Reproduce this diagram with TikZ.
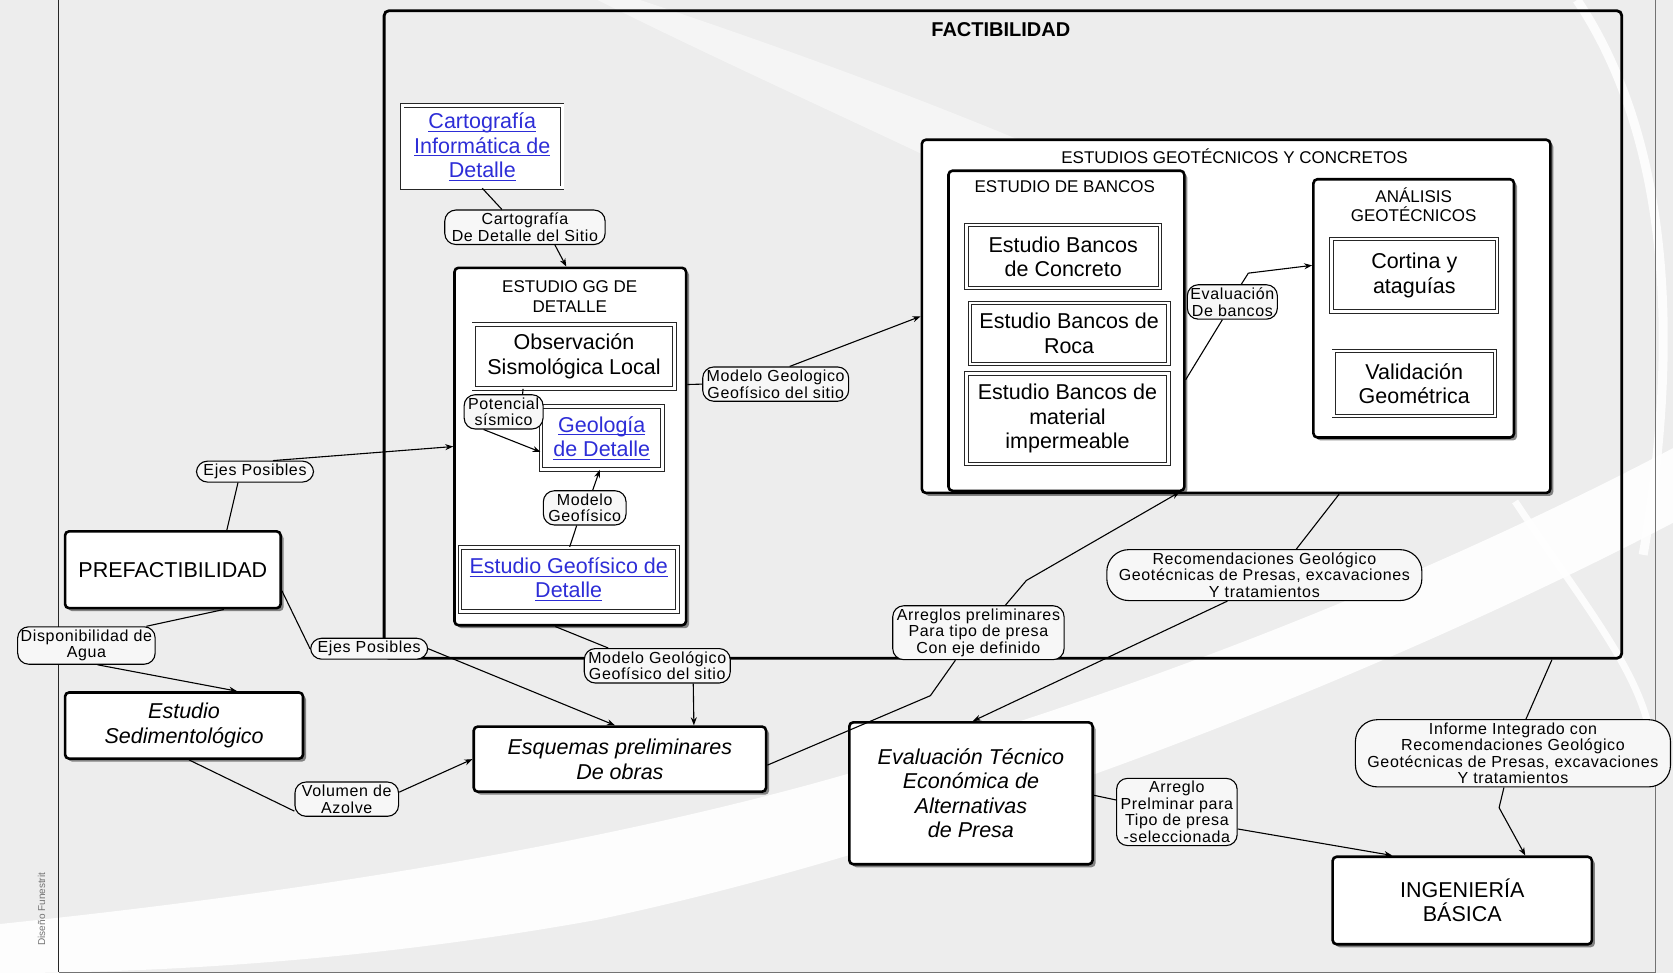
\documentclass[tikz,border=0pt]{standalone}
\usepackage{fontspec}
\setmainfont{Liberation Sans}
\newfontfamily\lblfont{Liberation Sans}[LetterSpace=4]
\usetikzlibrary{arrows.meta,fit,shadows}
\definecolor{bggray}{RGB}{237,237,237}
\definecolor{lblfill}{RGB}{247,247,247}
\definecolor{linkblue}{RGB}{45,45,215}
\newcommand{\boxfs}{\fontsize{21.5}{24.5}\selectfont}
\newcommand{\ttlfs}{\fontsize{17}{19.5}\selectfont}
\newcommand{\lblfs}{\lblfont\fontsize{16}{16.5}\selectfont}
\newsavebox{\lnkbox}
\newcommand{\lnk}[1]{\leavevmode{\color{linkblue}\sbox{\lnkbox}{#1}%
  \rlap{\vrule width\wd\lnkbox height -2.2pt depth 3.1pt}\usebox{\lnkbox}}}
\begin{document}
\begin{tikzpicture}[x=1.067pt,y=-1.067pt,
  spanbox/.style args={#1/#2/#3/#4}{minimum width={(#3-#1)*1.067pt},
    minimum height={(#4-#2)*1.067pt}, at={({(#1+#3)/2},{(#2+#4)/2})}},
  conn/.style={line width=1.1pt, black},
  arr/.style={conn, -{Stealth[length=8pt,width=6pt]}},
  bigbox/.style={draw, line width=2.6pt, rounded corners=4pt, fill=white,
    inner sep=0pt, align=center, font=\boxfs,
    drop shadow={shadow xshift=3pt, shadow yshift=-3pt, fill=black, opacity=0.45}},
  dblbox/.style={draw=black!85, line width=0.9pt, double=white, double distance=2.6pt,
    fill=white, inner sep=0pt, align=center, font=\boxfs,
    drop shadow={shadow xshift=2pt, shadow yshift=-2pt, fill=black, opacity=0.25}},
  lbl/.style={draw, line width=1.1pt, rounded corners=11pt, fill=lblfill,
    font=\lblfs, align=center, inner xsep=7pt, inner ysep=3pt},
  biglbl/.style={lbl, rounded corners=22pt, inner xsep=12pt},
  ttl/.style={font=\ttlfs, align=center, inner sep=0pt}]
\useasboundingbox (0,0) rectangle (1568,912);

% background with soft white swooshes
\fill[bggray] (0,0) rectangle (1568,912);
\fill[white, opacity=0.9] (0,866) .. controls (250,840) and (520,800) .. (760,735)
  .. controls (1050,655) and (1330,545) .. (1568,420) -- (1568,490)
  .. controls (1300,630) and (900,790) .. (560,862)
  .. controls (350,900) and (150,912) .. (0,912) -- cycle;
\fill[white, opacity=0.45] (600,0) .. controls (720,40) and (860,90) .. (1000,150)
  -- (1000,210) .. controls (860,140) and (700,70) .. (560,0) -- cycle;
\draw[white, line width=9pt, opacity=0.85] (1478,0) .. controls (1565,130) and (1575,320) .. (1540,520);
\draw[white, line width=7pt, opacity=0.85] (1420,470) .. controls (1480,560) and (1530,620) .. (1545,680);

% page frame
\draw[line width=1.6pt, black!85] (55,0) -- (55,911);
\draw[line width=0.9pt, black!55] (55,911) -- (1552,911);
\draw[line width=0.9pt, black!55] (1552,0) -- (1552,911);
\node[rotate=90, font=\fontsize{10}{11}\selectfont, text=black!55] (firma) at (39,852) {Diseño Funestrit};

% FACTIBILIDAD stage
\node[draw, line width=2.8pt, rounded corners=5pt, inner sep=0pt,
  spanbox=360/10/1520/617] (fact) {};
\node[font=\bfseries\fontsize{20}{22}\selectfont] (factT) at (938,28) {FACTIBILIDAD};

\node[dblbox, spanbox=377/99/527/176] (cart)
  {\lnk{Cartografía}\\\lnk{Informática de}\\\lnk{Detalle}};

% detailed geological-geophysical study
\node[bigbox, spanbox=426/251/643/586] (gg) {};
\node[ttl] (ggT) at (534,278) {ESTUDIO GG DE\\DETALLE};
\node[dblbox, spanbox=444/304/632/364] (obs) {Observación\\Sismológica Local};
\node[dblbox, spanbox=507/381/621/440] (geo) {\lnk{Geología}\\\lnk{de Detalle}};
\node[dblbox, spanbox=431/513/635/573] (egeof) {\lnk{Estudio Geofísico de}\\\lnk{Detalle}};
\node[lbl, inner xsep=4pt] (pot) at (472,386) {Potencial\\sísmico};
\node[lbl, inner xsep=5pt] (mgf) at (548,476) {Modelo\\Geofísico};

% geotechnical and concrete studies
\node[bigbox, spanbox=864/131/1453/462] (egc) {};
\node[ttl] (egcT) at (1157,146) {ESTUDIOS GEOTÉCNICOS Y CONCRETOS};
\node[bigbox, spanbox=889/160/1110/460] (bancos) {};
\node[ttl] (bancosT) at (998,175) {ESTUDIO DE BANCOS};
\node[dblbox, spanbox=906/211/1087/270] (conc) {Estudio Bancos\\de Concreto};
\node[dblbox, spanbox=909/284/1095/341] (roca) {Estudio Bancos de\\Roca};
\node[dblbox, spanbox=906/350/1095/435] (imper) {Estudio Bancos de\\material\\impermeable};
\node[bigbox, spanbox=1231/168/1419/410] (anal) {};
\node[ttl] (analT) at (1325,192) {ANÁLISIS\\GEOTÉCNICOS};
\node[dblbox, spanbox=1248/224/1403/292] (cort) {Cortina y\\ataguías};
\node[dblbox, spanbox=1250/329/1401/390] (valid) {Validación\\Geométrica};
\node[lbl, inner xsep=3pt] (evb) at (1155,283) {Evaluación\\De bancos};

% stages outside the feasibility frame
\node[bigbox, spanbox=61/498/263/570] (pref) {PREFACTIBILIDAD};
\node[bigbox, spanbox=61/649/284/711, font=\boxfs\itshape] (sedim) {Estudio\\Sedimentológico};
\node[bigbox, spanbox=444/681/718/742, font=\boxfs\itshape] (esq) {Esquemas preliminares\\De obras};
\node[bigbox, spanbox=796/677/1024/810, font=\boxfs\itshape] (evt)
  {Evaluación Técnico\\Económica de\\Alternativas\\de Presa};
\node[bigbox, spanbox=1249/803/1492/885] (ing) {INGENIERÍA\\BÁSICA};

% connector labels
\node[lbl] (lcart) at (492,213) {Cartografía\\De Detalle del Sitio};
\node[lbl] (ejesA) at (239,442) {Ejes Posibles};
\node[lbl] (ejesB) at (346,608) {Ejes Posibles};
\node[lbl, inner xsep=3pt] (disp) at (81,605) {Disponibilidad de\\Agua};
\node[lbl] (vol) at (325,749) {Volumen de\\Azolve};
\node[lbl, inner xsep=4pt] (mgB) at (616,624) {Modelo Geológico\\Geofísico del sitio};
\node[lbl, inner xsep=4pt] (mgT) at (727,360) {Modelo Geologico\\Geofísico del sitio};
\node[lbl, inner xsep=4pt] (arrg) at (917,593) {Arreglos preliminares\\Para tipo de presa\\Con eje definido};
\node[biglbl] (recom) at (1185,539)
  {Recomendaciones Geológico\\Geotécnicas de Presas, excavaciones\\Y tratamientos};
\node[lbl, inner xsep=4pt] (arp) at (1103,761) {Arreglo\\Prelminar para\\Tipo de presa\\-seleccionada};
\node[biglbl] (inf) at (1418,706)
  {Informe Integrado con\\Recomendaciones Geológico\\Geotécnicas de Presas, excavaciones\\Y tratamientos};

% bend points
\coordinate (arrK) at (872,652);
\coordinate (arrK2) at (962,544);
\coordinate (evbK) at (1170,256);
\coordinate (infK) at (1405,757);

% connectors
\draw[conn] (cart.south) -- ([xshift=-23pt]lcart.north);
\draw[arr] ([xshift=30pt]lcart.south) -- ([xshift=-4pt]gg.north);
\draw[conn] ([xshift=-51pt]obs.south) -- ([xshift=19pt]pot.north);
\draw[arr] ([xshift=-20pt]pot.south) -- ([yshift=-14pt]geo.west);
\draw[conn] ([xshift=1pt]egeof.north) -- ([xshift=-8pt]mgf.south);
\draw[arr] ([xshift=8pt]mgf.north) -- ([xshift=-2pt]geo.south);

\draw[conn] ([xshift=54pt]pref.north) -- ([xshift=-17pt]ejesA.south);
\draw[arr] ([xshift=18pt]ejesA.north) -- (gg.west);
\draw[conn] ([xshift=51pt]pref.south) -- ([xshift=60pt]disp.north);
\draw[arr] ([xshift=11pt]disp.south) -- ([xshift=53pt]sedim.north);
\draw[conn] ([xshift=5pt]sedim.south) -- ([yshift=-12pt]vol.west);
\draw[arr] ([yshift=7pt]vol.east) -- (esq.west);
\draw[conn] ([yshift=-21pt]pref.east) -- (ejesB.west);
\draw[arr] (ejesB.east) -- ([xshift=-5pt]esq.north);
\draw[conn] ([xshift=-15pt]gg.south) -- ([xshift=-49pt]mgB.north);
\draw[arr] ([xshift=36pt]mgB.south) -- ([xshift=74pt]esq.north);

\draw[conn] ([yshift=62pt]gg.east) -- (mgT.west);
\draw[arr] ([xshift=14pt]mgT.north) -- (egc.west);
\draw[conn] ([yshift=-6pt]esq.east) -- (arrK) -- ([xshift=-23pt]arrg.south);
\draw[arr] ([xshift=27pt]arrg.north) -- (arrK2) -- ([xshift=-6pt]bancos.south east);
\draw[conn] ([yshift=-49pt]bancos.east) -- ([xshift=-10pt]evb.south);
\draw[arr] ([xshift=9pt]evb.north) -- (evbK) -- ([yshift=43pt]anal.west);

\draw[conn] ([xshift=103pt]egc.south) -- ([xshift=32pt]recom.north);
\draw[arr] ([xshift=-37pt]recom.south) -- ([xshift=2pt]evt.north);
\draw[conn] ([yshift=-2pt]evt.east) -- ([yshift=12pt]arp.west);
\draw[arr] ([yshift=-17pt]arp.east) -- ([xshift=-70pt]ing.north);
\draw[conn] ([xshift=549pt]fact.south) -- ([xshift=13pt]inf.north);
\draw[arr] ([xshift=-9pt]inf.south) -- (infK) -- ([xshift=63pt]ing.north);
\end{tikzpicture}
\end{document}
